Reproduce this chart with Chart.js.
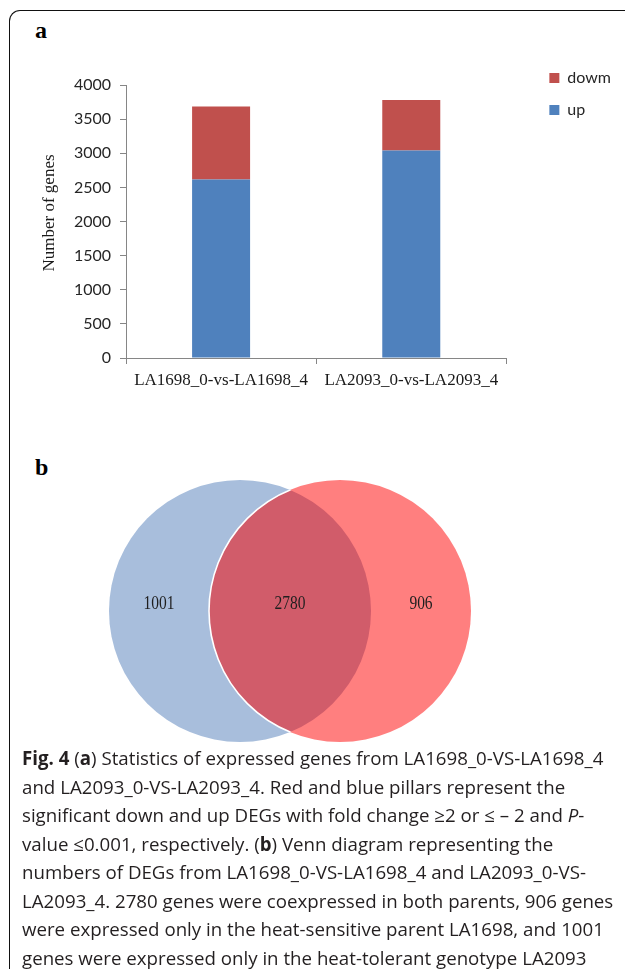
<!DOCTYPE html>
<html>
<head>
<meta charset="utf-8">
<script src="https://cdn.jsdelivr.net/npm/chart.js@4.4.1/dist/chart.umd.min.js"></script>
<style>
  html, body { margin: 0; padding: 0; background: #fff; }
  body { width: 625px; height: 969px; position: relative; overflow: hidden; }
  #frame {
    position: absolute; left: 9px; top: 10px; width: 700px; height: 1000px;
    border-top: 1.6px solid #111; border-left: 1.6px solid #111;
    border-top-left-radius: 11px; box-sizing: border-box;
  }
  .panel {
    position: absolute; font-family: "Liberation Serif", serif; font-weight: bold;
    font-size: 24px; line-height: 24px; color: #000;
  }
  canvas { position: absolute; left: 0; }
  #bars { top: 0; }
  #venn { top: 430px; }
  .cap {
    position: absolute; left: 22px; font-family: "Open Sans", sans-serif; font-size: 18.7px;
    line-height: 28px; color: #231f20; white-space: nowrap;
  }
</style>
</head>
<body>
<div id="frame"></div>
<div class="panel" style="left:35px;top:18px;">a</div>
<div class="panel" style="left:35px;top:455px;">b</div>
<canvas id="bars" width="625" height="400"></canvas>
<canvas id="venn" width="625" height="330"></canvas>

<div class="cap" style="top:744px;"><b>Fig. 4</b> (<b>a</b>) Statistics of expressed genes from LA1698_0-VS-LA1698_4</div>
<div class="cap" style="top:773px;">and LA2093_0-VS-LA2093_4. Red and blue pillars represent the</div>
<div class="cap" style="top:801px;">significant down and up DEGs with fold change ≥2 or ≤ – 2 and <i>P</i>-</div>
<div class="cap" style="top:830px;">value ≤0.001, respectively. (<b>b</b>) Venn diagram representing the</div>
<div class="cap" style="top:858px;">numbers of DEGs from LA1698_0-VS-LA1698_4 and LA2093_0-VS-</div>
<div class="cap" style="top:887px;">LA2093_4. 2780 genes were coexpressed in both parents, 906 genes</div>
<div class="cap" style="top:915px;">were expressed only in the heat-sensitive parent LA1698, and 1001</div>
<div class="cap" style="top:944px;">genes were expressed only in the heat-tolerant genotype LA2093</div>

<script>
// ---- panel a: up / down regulated DEG counts per comparison ----
const comparisons = ['LA1698_0-vs-LA1698_4', 'LA2093_0-vs-LA2093_4'];
const upGenes = [2615, 3040];
const downGenes = [1071, 741];
const yTickValues = [0, 500, 1000, 1500, 2000, 2500, 3000, 3500, 4000];

// ---- panel b: Venn counts ----
const vennSets = ['LA2093_0-VS-LA2093_4', 'LA1698_0-VS-LA1698_4'];
const onlyInSet = [1001, 906];
const sharedGenes = 2780;

const axisGray = '#868686';
const tickFont = { family: 'Lato', size: 16 };

new Chart(document.getElementById('bars'), {
  type: 'bar',
  data: {
    labels: comparisons,
    datasets: [
      { label: 'up', data: upGenes, backgroundColor: '#4F81BD', borderWidth: 0 },
      { label: 'dowm', data: downGenes, backgroundColor: '#C0504D', borderWidth: 0 }
    ]
  },
  options: {
    responsive: false,
    animation: false,
    events: [],
    layout: { padding: { top: 54, right: 4, bottom: 0, left: 0 } },
    datasets: { bar: { categoryPercentage: 1, barPercentage: 0.305 } },
    plugins: {
      legend: {
        position: 'right',
        align: 'start',
        reverse: true,
        labels: {
          boxWidth: 10, boxHeight: 10, padding: 16,
          color: '#262626', font: tickFont
        }
      },
      tooltip: { enabled: false }
    },
    scales: {
      x: {
        stacked: true,
        offset: true,
        grid: { offset: true, drawOnChartArea: false, drawTicks: true, tickLength: 6, color: axisGray },
        border: { color: axisGray, width: 1 },
        ticks: { color: '#1a1a1a', padding: 6, font: { family: 'Liberation Serif', size: 17 }, maxRotation: 0 },
        afterFit: s => { s.height = 42; }
      },
      y: {
        stacked: true,
        min: 0, max: 4000,
        afterBuildTicks: s => { s.ticks = yTickValues.map(v => ({ value: v })); },
        grid: { drawOnChartArea: false, drawTicks: true, tickLength: 6, color: axisGray },
        border: { color: axisGray, width: 1 },
        ticks: { color: '#262626', padding: 9, font: tickFont, callback: v => String(v) },
        title: {
          display: true, text: '    Number of genes', color: '#1a1a1a',
          font: { family: 'Liberation Serif', size: 17 }, padding: { top: 39, bottom: 0 }
        },
        afterFit: s => { s.width = 126; }
      },
      // empty spacer scales that keep the plot clear of the legend
      gapTop: {
        type: 'linear', axis: 'x', position: 'top', display: true,
        grid: { display: false }, border: { display: false }, ticks: { display: false },
        afterFit: s => { s.height = 31; }
      },
      gapRight: {
        type: 'linear', axis: 'y', position: 'right', display: true,
        grid: { display: false }, border: { display: false }, ticks: { display: false },
        afterFit: s => { s.width = 27; }
      }
    }
  }
});

// ---- Venn diagram drawn as two bubbles with the overlap lens on top ----
const vennGeometry = { centers: [240, 340], cy: 611, radius: 131, labelLift: 7 };

const vennOverlay = {
  id: 'vennOverlay',
  afterDatasetsDraw(chart) {
    const ctx = chart.ctx;
    const a = chart.getDatasetMeta(0).data[0];
    const b = chart.getDatasetMeta(1).data[0];
    const ra = a.options.radius, rb = b.options.radius;

    ctx.save();
    ctx.beginPath();
    ctx.arc(a.x, a.y, ra, 0, Math.PI * 2);
    ctx.clip();
    ctx.beginPath();
    ctx.arc(b.x, b.y, rb, 0, Math.PI * 2);
    ctx.fillStyle = '#D15C6A';
    ctx.fill();
    ctx.lineWidth = 1.6;
    ctx.strokeStyle = '#ffffff';
    ctx.stroke();
    ctx.restore();

    const aLeft = a.x - ra, aRight = a.x + ra;
    const bLeft = b.x - rb, bRight = b.x + rb;
    const ly = (a.y + b.y) / 2 - vennGeometry.labelLift;
    const labels = [
      [String(onlyInSet[0]), (aLeft + bLeft) / 2],
      [String(sharedGenes), (bLeft + aRight) / 2],
      [String(onlyInSet[1]), (aRight + bRight) / 2]
    ];
    ctx.save();
    ctx.fillStyle = '#1f1f1f';
    ctx.font = '18px "Liberation Serif"';
    ctx.textAlign = 'center';
    ctx.textBaseline = 'middle';
    labels.forEach(([t, x]) => {
      ctx.save();
      ctx.translate(x, ly);
      ctx.scale(0.86, 1);
      ctx.fillText(t, 0, 0);
      ctx.restore();
    });
    ctx.restore();
  }
};

new Chart(document.getElementById('venn'), {
  type: 'bubble',
  data: {
    datasets: [
      {
        label: vennSets[0], order: 2, clip: false,
        data: [{ x: vennGeometry.centers[0], y: vennGeometry.cy }],
        backgroundColor: '#A8BEDC', borderWidth: 0, radius: vennGeometry.radius
      },
      {
        label: vennSets[1], order: 1, clip: false,
        data: [{ x: vennGeometry.centers[1], y: vennGeometry.cy }],
        backgroundColor: '#FF7F7F', borderWidth: 0, radius: vennGeometry.radius
      }
    ]
  },
  options: {
    responsive: false,
    animation: false,
    events: [],
    layout: { padding: 0, autoPadding: false },
    plugins: { legend: { display: false }, tooltip: { enabled: false } },
    scales: {
      x: { type: 'linear', min: 0, max: 625, display: false },
      y: { type: 'linear', min: 430, max: 760, reverse: true, display: false }
    }
  },
  plugins: [vennOverlay]
});
</script>
</body>
</html>
